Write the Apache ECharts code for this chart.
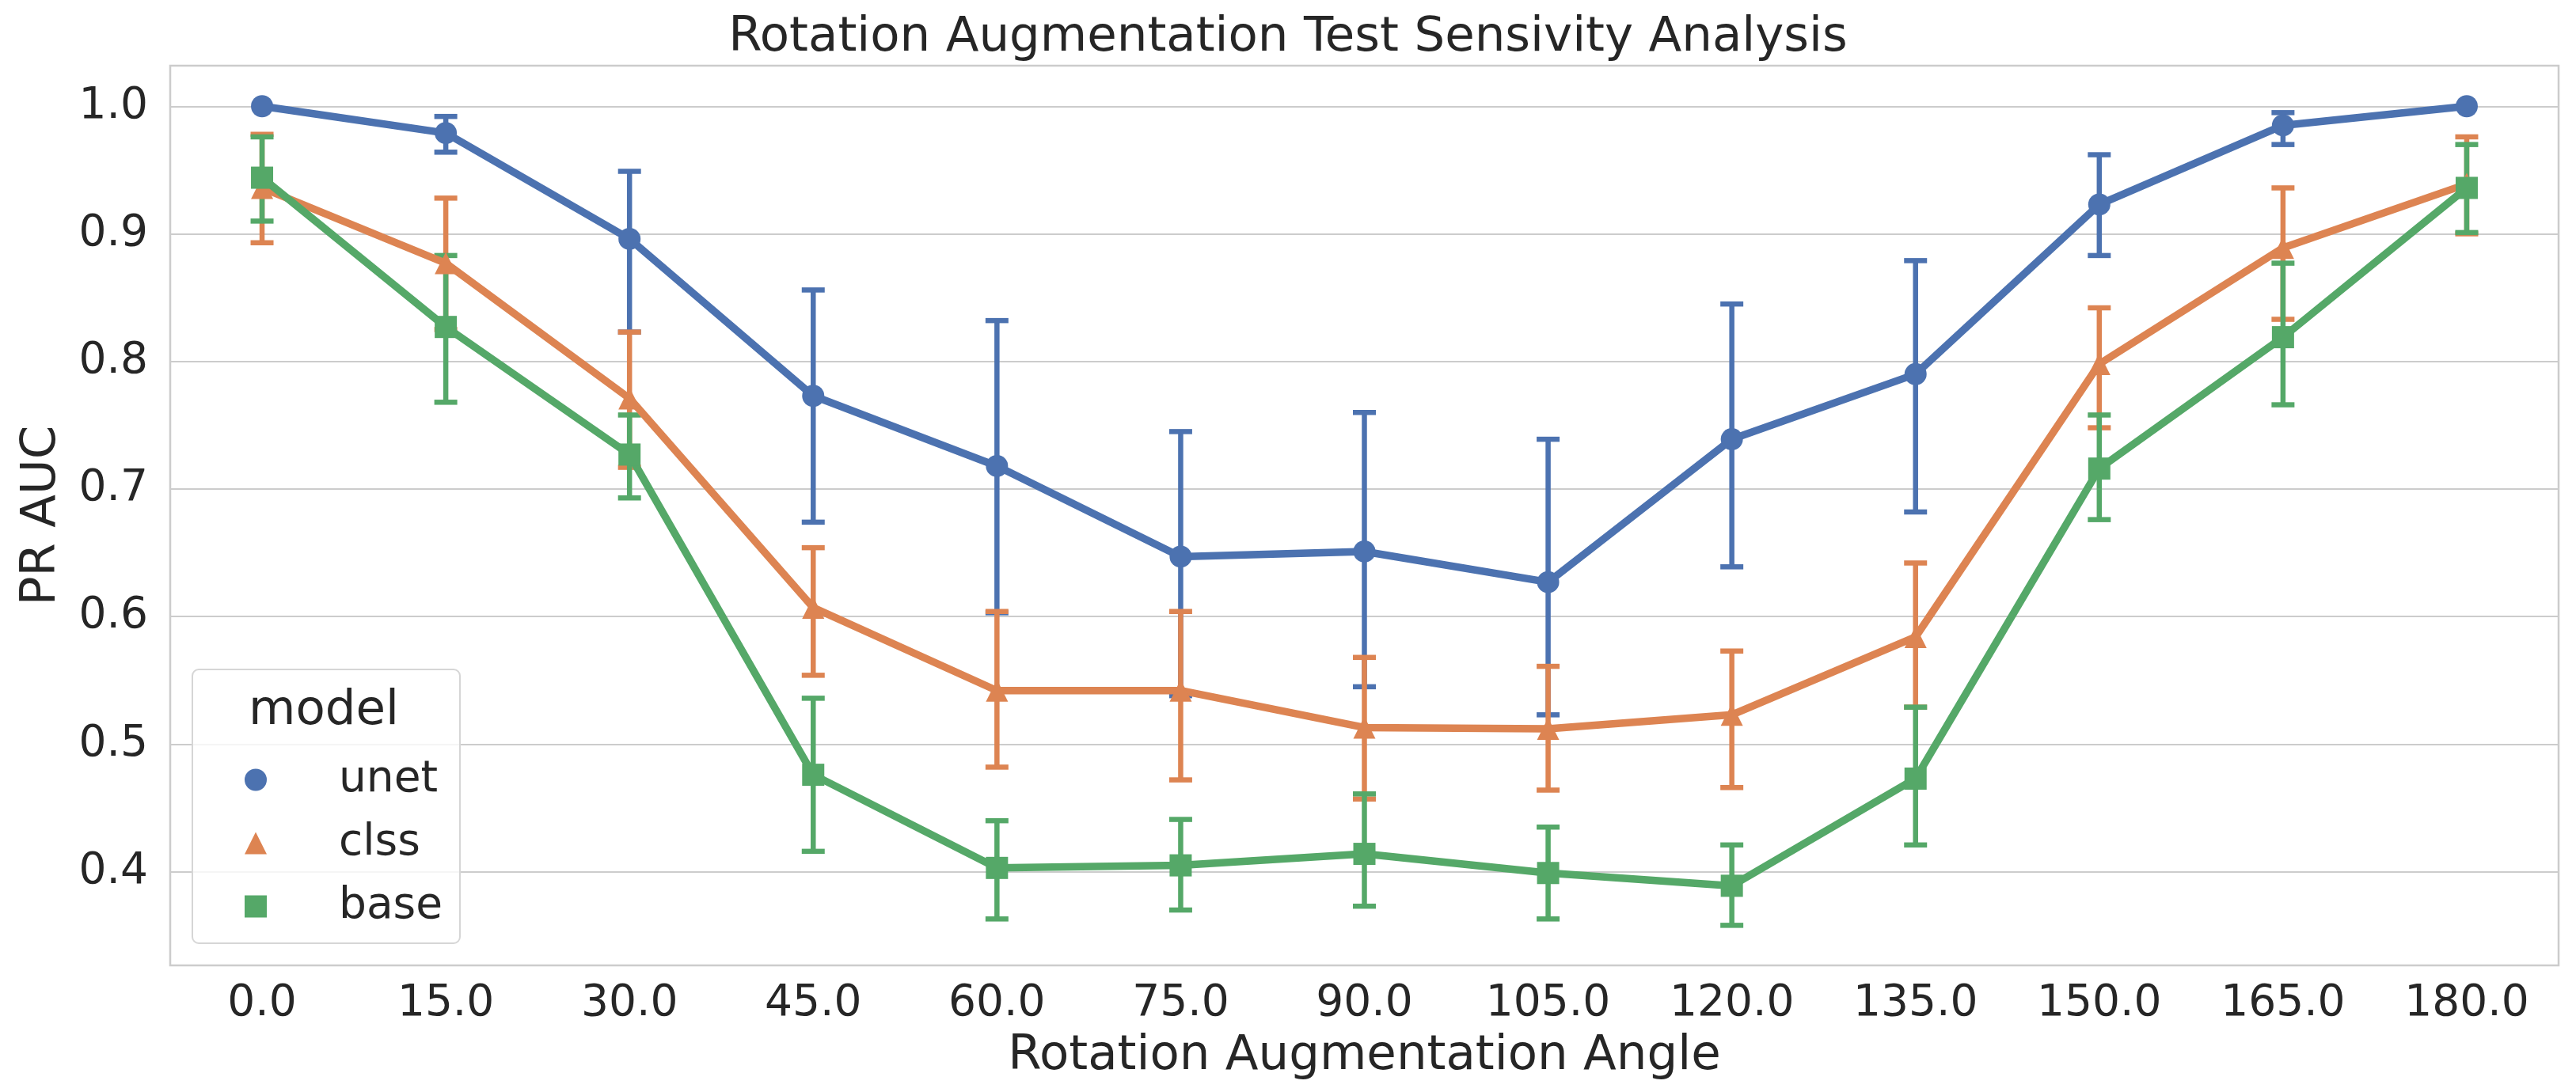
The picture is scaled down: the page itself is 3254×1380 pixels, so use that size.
<!DOCTYPE html>
<html>
<head>
<meta charset="utf-8">
<script src="https://cdn.jsdelivr.net/npm/echarts@6/dist/echarts.min.js"></script>
<style>
html, body { margin: 0; padding: 0; background: #ffffff; }
#chart { width: 3254px; height: 1380px; }
</style>
</head>
<body>
<div id="chart"></div>
<script>
// ---- data ----
const angles = ['0.0', '15.0', '30.0', '45.0', '60.0', '75.0', '90.0', '105.0', '120.0', '135.0', '150.0', '165.0', '180.0'];
const models = ['unet', 'clss', 'base'];

const unetMean = [1.000, 0.979, 0.896, 0.773, 0.718, 0.647, 0.651, 0.627, 0.739, 0.790, 0.923, 0.985, 1.000];
const unetLow  = [null, 0.964, 0.823, 0.674, 0.603, 0.538, 0.545, 0.523, 0.639, 0.682, 0.883, 0.970, null];
const unetHigh = [null, 0.992, 0.949, 0.856, 0.832, 0.745, 0.760, 0.739, 0.845, 0.879, 0.962, 0.995, null];

const clssMean = [0.936, 0.877, 0.771, 0.607, 0.542, 0.542, 0.513, 0.512, 0.523, 0.584, 0.798, 0.889, 0.939];
const clssLow  = [0.893, 0.825, 0.717, 0.554, 0.482, 0.472, 0.457, 0.464, 0.466, 0.529, 0.748, 0.833, 0.900];
const clssHigh = [0.978, 0.928, 0.823, 0.654, 0.604, 0.604, 0.568, 0.561, 0.573, 0.642, 0.842, 0.936, 0.976];

const baseMean = [0.944, 0.827, 0.727, 0.476, 0.403, 0.405, 0.414, 0.399, 0.389, 0.473, 0.716, 0.819, 0.936];
const baseLow  = [0.910, 0.768, 0.693, 0.416, 0.363, 0.370, 0.373, 0.363, 0.358, 0.421, 0.676, 0.766, 0.901];
const baseHigh = [0.976, 0.883, 0.758, 0.536, 0.440, 0.441, 0.461, 0.435, 0.421, 0.529, 0.758, 0.877, 0.970];

const yTickStep = 0.1;

// ---- styling ----
const FONT = 'DejaVu Sans';
const TEXT = '#262626';
const GRIDC = '#cccccc';
const colors = { unet: '#4C72B0', clss: '#DD8452', base: '#55A868' };
const symbols = { unet: 'circle', clss: 'triangle', base: 'rect' };
const seriesData = {
  unet: { mean: unetMean, low: unetLow, high: unetHigh },
  clss: { mean: clssMean, low: clssLow, high: clssHigh },
  base: { mean: baseMean, low: baseLow, high: baseHigh }
};

function errSeries(name) {
  const d = seriesData[name];
  const data = [];
  for (let i = 0; i < angles.length; i++) {
    if (d.low[i] != null && d.high[i] != null) data.push([i, d.low[i], d.high[i]]);
  }
  const color = colors[name];
  return {
    name: name + '-err',
    type: 'custom',
    data: data,
    encode: { x: 0, y: [1, 2] },
    silent: true,
    renderItem: function (params, api) {
      const x = api.value(0);
      const lo = api.coord([x, api.value(1)]);
      const hi = api.coord([x, api.value(2)]);
      const hw = 14.5;
      const st = { stroke: color, lineWidth: 6.5, lineCap: 'butt' };
      return {
        type: 'group',
        children: [
          { type: 'line', shape: { x1: lo[0], y1: lo[1], x2: hi[0], y2: hi[1] }, style: st },
          { type: 'line', shape: { x1: lo[0] - hw, y1: lo[1], x2: lo[0] + hw, y2: lo[1] }, style: st },
          { type: 'line', shape: { x1: hi[0] - hw, y1: hi[1], x2: hi[0] + hw, y2: hi[1] }, style: st }
        ]
      };
    }
  };
}

function lineSeries(name) {
  return {
    name: name,
    type: 'line',
    data: seriesData[name].mean,
    symbol: symbols[name],
    symbolSize: 28,
    showSymbol: true,
    color: colors[name],
    itemStyle: { color: colors[name] },
    lineStyle: { color: colors[name], width: 9.5 },
    emphasis: { disabled: true }
  };
}

const series = [];
models.forEach(function (m) { series.push(errSeries(m)); series.push(lineSeries(m)); });

const chart = echarts.init(document.getElementById('chart'), null, { renderer: 'canvas' });
chart.setOption({
  animation: false,
  backgroundColor: '#ffffff',
  textStyle: { fontFamily: FONT },
  title: {
    text: 'Rotation Augmentation Test Sensivity Analysis',
    left: 'center',
    top: 18,
    padding: 0,
    textStyle: { fontFamily: FONT, fontSize: 61, fontWeight: 'normal', color: TEXT }
  },
  grid: {
    left: 215, right: 22, top: 83, bottom: 160,
    show: true, borderColor: GRIDC, borderWidth: 2.5, backgroundColor: 'transparent'
  },
  xAxis: {
    type: 'category',
    data: angles,
    boundaryGap: true,
    axisLine: { show: false },
    axisTick: { show: false },
    splitLine: { show: false },
    axisLabel: { interval: 0, fontFamily: FONT, fontSize: 55, color: TEXT, margin: 21 },
    name: 'Rotation Augmentation Angle',
    nameLocation: 'middle',
    nameGap: 85,
    nameTextStyle: { fontFamily: FONT, fontSize: 61, color: TEXT }
  },
  yAxis: {
    type: 'value',
    min: 0.3266,
    max: 1.0318,
    minInterval: yTickStep,
    maxInterval: yTickStep,
    axisLine: { show: false },
    axisTick: { show: false },
    splitLine: { show: true, lineStyle: { color: GRIDC, width: 2 } },
    axisLabel: {
      showMinLabel: false, showMaxLabel: false,
      fontFamily: FONT, fontSize: 55, color: TEXT, margin: 28,
      formatter: function (v) {
        const k = Math.round(v / yTickStep);
        if (Math.abs(v - k * yTickStep) > 1e-6) return '';
        return v.toFixed(1);
      }
    },
    name: 'PR AUC',
    nameLocation: 'middle',
    nameGap: 131,
    nameTextStyle: { fontFamily: FONT, fontSize: 61, color: TEXT }
  },
  legend: {
    orient: 'vertical',
    left: 309,
    top: 958,
    padding: 0,
    itemWidth: 28,
    itemHeight: 28,
    itemGap: 25,
    selectedMode: false,
    z: 20,
    formatter: '{t|{name}}',
    textStyle: {
      fontFamily: FONT, fontSize: 55, color: TEXT,
      rich: { t: { fontFamily: FONT, fontSize: 55, color: TEXT, lineHeight: 55, padding: [0, 0, 0, 86] } }
    },
    data: models.map(function (m) { return { name: m, icon: symbols[m] }; })
  },
  graphic: [
    {
      type: 'rect',
      z: 15,
      shape: { x: 243, y: 846, width: 338, height: 346, r: 8 },
      style: { fill: 'rgba(255,255,255,0.8)', stroke: '#d6d6d6', lineWidth: 2 }
    },
    {
      type: 'text',
      z: 20,
      style: { text: 'model', x: 409, y: 899, align: 'center', verticalAlign: 'middle',
               font: '61px "DejaVu Sans"', fill: TEXT }
    }
  ],
  series: series
});
</script>
</body>
</html>
